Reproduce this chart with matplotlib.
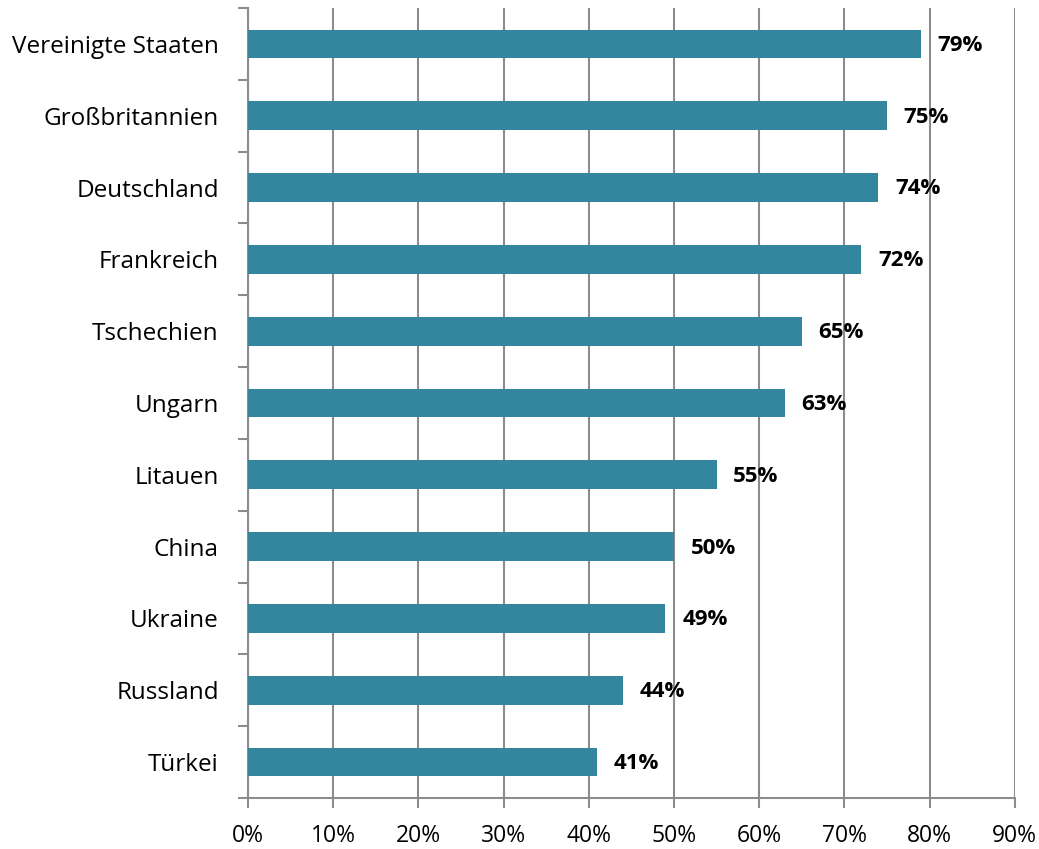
import numpy as np
import matplotlib.pyplot as plt

countries = ['Vereinigte Staaten', 'Großbritannien', 'Deutschland', 'Frankreich',
             'Tschechien', 'Ungarn', 'Litauen', 'China', 'Ukraine', 'Russland', 'Türkei']
values = [79, 75, 74, 72, 65, 63, 55, 50, 49, 44, 41]
xticks = [0, 10, 20, 30, 40, 50, 60, 70, 80, 90]

plt.rcParams['font.family'] = ['Open Sans', 'DejaVu Sans']

fig = plt.figure(figsize=(10.39, 8.49), dpi=100)
ax = fig.add_axes([0.2387, 0.0601, 0.738, 0.9305])

n = len(countries)
y = np.arange(n)[::-1]
ax.barh(y, values, height=0.4, color='#33869E', zorder=3)

for yi, v in zip(y, values):
    ax.annotate(f'{v}%', xy=(v, yi), xytext=(12, -1), textcoords='offset points',
                ha='left', va='center', fontsize=16, fontweight='bold', color='black')

ax.set_xlim(0, 90)
ax.set_ylim(-0.5, n - 0.5)
ax.set_xticks(xticks)
ax.set_xticklabels([f'{t}%' for t in xticks], fontsize=16.5)
ax.xaxis.grid(True, color='#8c8c8c', linewidth=1.5, zorder=0)

# category labels without ticks, ticks at boundaries
ax.set_yticks(y)
ax.set_yticklabels(countries, fontsize=17.5)
ax.tick_params(axis='y', length=0, pad=21)
ax.set_yticks(np.arange(-0.5, n, 1.0), minor=True)
ax.tick_params(axis='y', which='minor', length=7, width=1.5, color='#8c8c8c')
ax.tick_params(axis='x', length=7, width=1.5, color='#8c8c8c', pad=12)

for s in ['top', 'right']:
    ax.spines[s].set_visible(False)
for s in ['left', 'bottom']:
    ax.spines[s].set_color('#8c8c8c')
    ax.spines[s].set_linewidth(1.5)

fig.savefig('out.png', dpi=100)
